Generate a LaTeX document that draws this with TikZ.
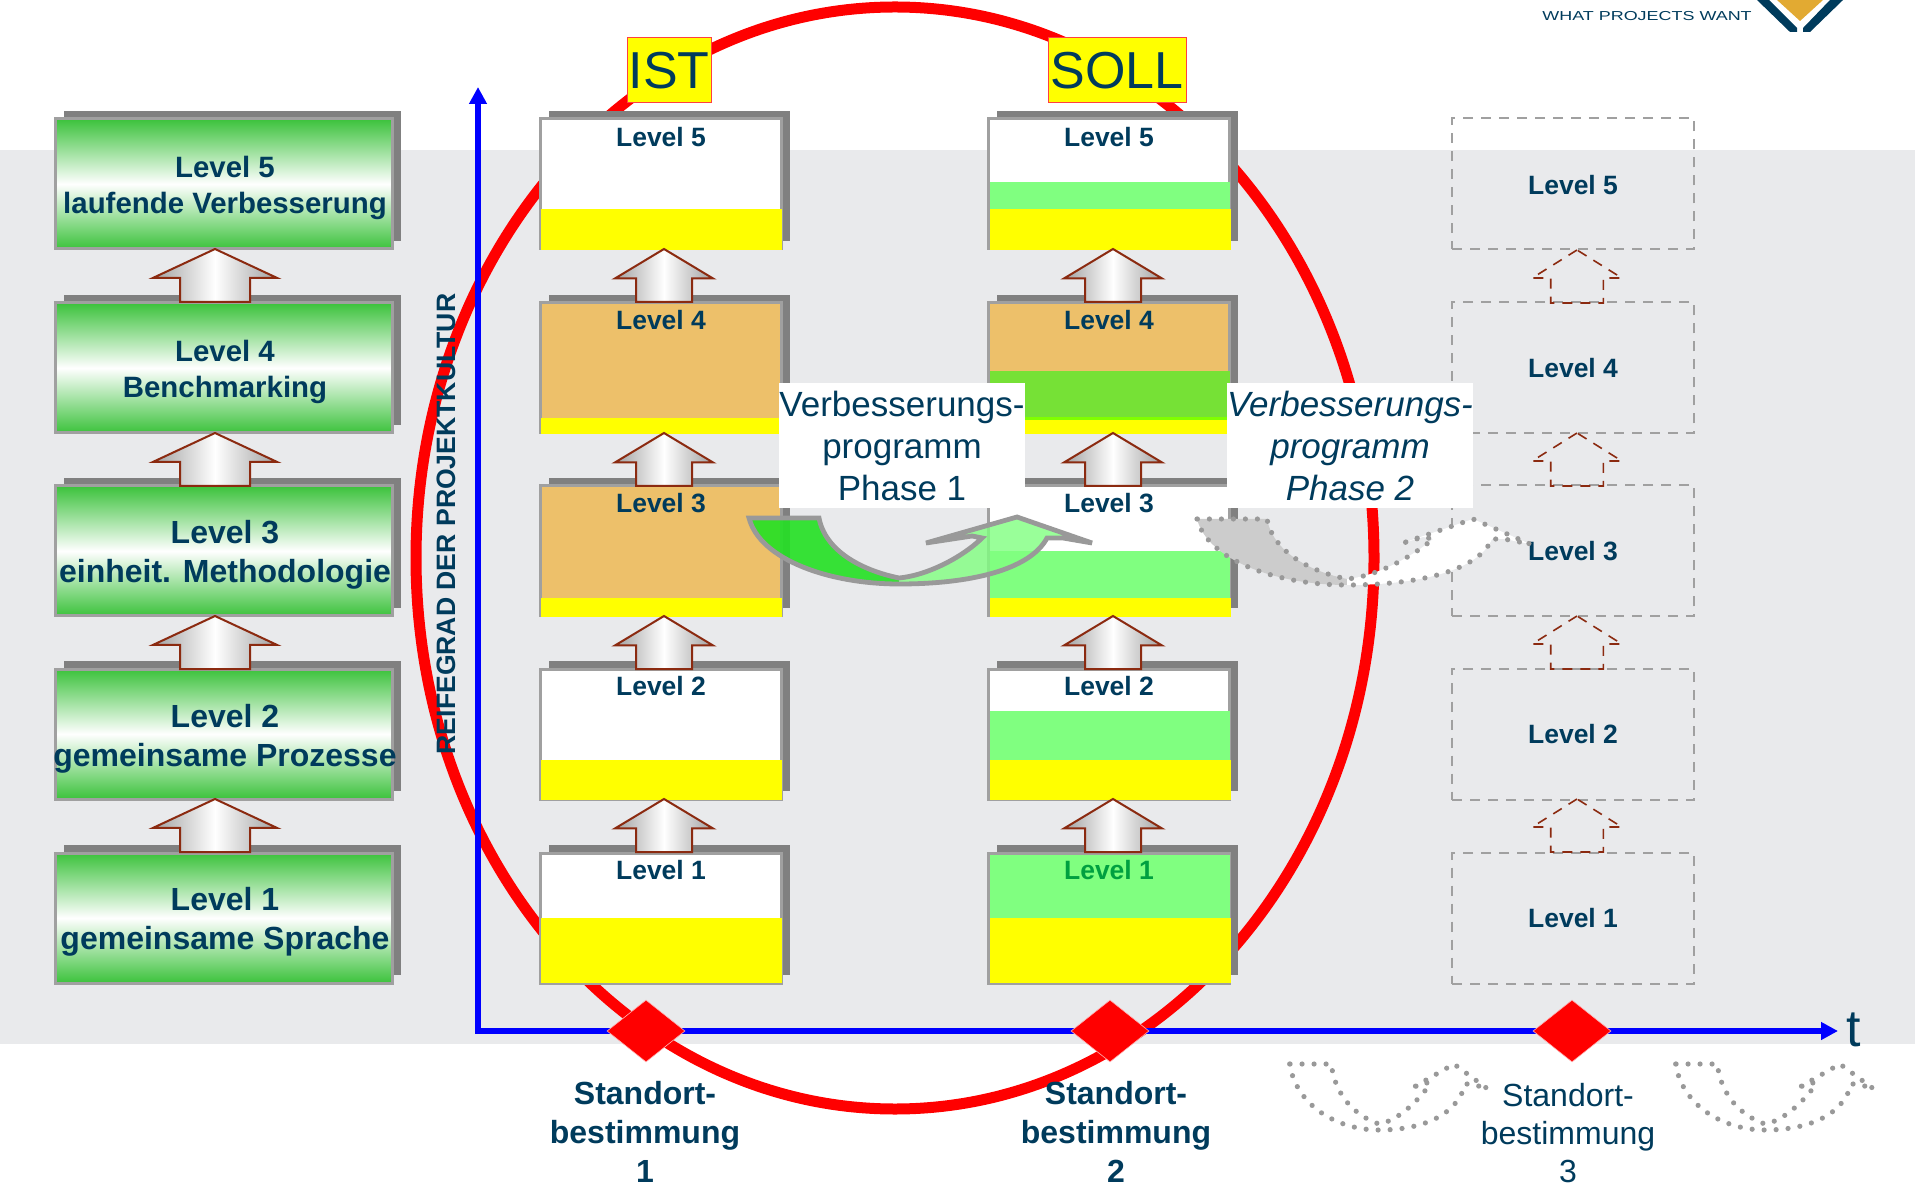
\documentclass[tikz,border=0pt]{standalone}
\usepackage{fontspec}
\setmainfont{Liberation Sans}
\usetikzlibrary{arrows.meta,shapes.arrows,shapes.geometric,shadows}
\definecolor{BandClr}{RGB}{233,234,236}
\definecolor{LabelClr}{RGB}{0,59,92}
\definecolor{BorderClr}{RGB}{160,160,160}
\definecolor{ShadowClr}{RGB}{128,128,128}
\definecolor{LeafClr}{RGB}{60,194,60}
\definecolor{ArrowClr}{RGB}{139,42,16}
\definecolor{OrangeClr}{RGB}{237,192,106}
\definecolor{SoftGreen}{RGB}{128,255,128}
\definecolor{MixGreen}{RGB}{118,225,54}
\definecolor{LimeClr}{RGB}{128,255,0}
\definecolor{TurnGreen}{RGB}{35,225,35}
\definecolor{TurnClr}{RGB}{153,153,153}
\definecolor{GoldClr}{RGB}{226,170,50}
\definecolor{YellowClr}{RGB}{255,255,0}
\newcommand{\TurnLeft}{(749,518) .. controls (760,560) and (830,584) .. (899,584) -- (899,578) .. controls (860,570) and (825,550) .. (819,518) -- cycle}
\newcommand{\TurnRight}{(899,584) .. controls (970,584) and (1030,570) .. (1047,538) -- (1063,538) -- (1092,543) -- (1017,517) -- (926,543) -- (972,536) -- (982,538) .. controls (965,555) and (930,575) .. (899,578) -- cycle}
\newcommand{\TurnWhole}{(749,518) .. controls (760,560) and (830,584) .. (899,584) .. controls (970,584) and (1030,570) .. (1047,538) -- (1063,538) -- (1092,543) -- (1017,517) -- (926,543) -- (972,536) -- (982,538) .. controls (965,555) and (930,575) .. (899,578) .. controls (860,570) and (825,550) .. (819,518) -- cycle}
\newcommand{\TurnDotRight}{(899,584) .. controls (970,584) and (1030,570) .. (1044,538) -- (1056,538) -- (1082,543) -- (1025,518) -- (952,543) -- (975,536) -- (985,538) .. controls (965,555) and (930,575) .. (899,578) -- cycle}
\newcommand{\TurnDotWhole}{(749,518) .. controls (760,560) and (830,584) .. (899,584) .. controls (970,584) and (1030,570) .. (1044,538) -- (1056,538) -- (1082,543) -- (1025,518) -- (952,543) -- (975,536) -- (985,538) .. controls (965,555) and (930,575) .. (899,578) .. controls (860,570) and (825,550) .. (819,518) -- cycle}
\tikzset{
  LevelBox/.style={rectangle,draw=BorderClr,line width=1.5pt,inner sep=0pt,outer sep=0pt,minimum width=120.5pt,minimum height=65pt,general shadow={shadow xshift=4.3pt,shadow yshift=4pt,fill=ShadowClr}},
  GreenBox/.style={LevelBox,minimum width=168.5pt,top color=LeafClr,bottom color=LeafClr,middle color=white},
  WhiteBox/.style={LevelBox,fill=white},
  OrangeBox/.style={LevelBox,fill=OrangeClr},
  GhostBox/.style={rectangle,draw=BorderClr,line width=1pt,dash pattern=on 5pt off 4pt,inner sep=0pt,minimum width=121pt,minimum height=65.5pt},
  BlockArrow/.style={single arrow,rotate=90,anchor=tip,draw=ArrowClr,line width=1pt,inner xsep=0pt,inner ysep=13.5pt,outer sep=0pt,minimum height=26.5pt,single arrow tip angle=118,single arrow head extend=10.5pt,left color=BorderClr,right color=BorderClr,middle color=white},
  WideArrow/.style={BlockArrow,inner ysep=17pt,single arrow tip angle=130,single arrow head extend=13.5pt},
  GhostArrow/.style={single arrow,rotate=90,anchor=tip,draw=ArrowClr,line width=.8pt,dash pattern=on 5pt off 4pt,inner xsep=0pt,inner ysep=12.75pt,outer sep=0pt,minimum height=26.5pt,single arrow tip angle=116,single arrow head extend=9.25pt},
  GreenText/.style={text=LabelClr,align=center,font=\bfseries\fontsize{16}{19.5}\selectfont},
  SmallGreenText/.style={text=LabelClr,align=center,font=\bfseries\fontsize{14.7}{17.7}\selectfont},
  LevelText/.style={text=LabelClr,font=\bfseries\fontsize{13.25}{16}\selectfont},
  TagBox/.style={rectangle,fill=YellowClr,draw=red!75!white,line width=.5pt,inner sep=0pt,minimum height=32.5pt,text=LabelClr,font=\fontsize{26}{30}\selectfont},
  PhaseBox/.style={rectangle,fill=white,inner sep=0pt,minimum width=123pt,minimum height=62.5pt,text=LabelClr,align=center,font=\fontsize{17.5}{21}\selectfont},
  StandText/.style={text=LabelClr,align=center,inner sep=0pt,font=\fontsize{16}{19}\selectfont},
  MilestoneMark/.style={diamond,fill=red,draw=red!30!white,line width=.3pt,aspect=1.26,inner sep=0pt,minimum width=39pt,minimum height=31pt},
  DotLine/.style={draw=TurnClr,line width=2.6pt,line cap=round,dash pattern=on 0pt off 6pt}
}

\begin{document}
\begin{tikzpicture}[x=.5pt,y=-.5pt]
\useasboundingbox (0,0) rectangle (1915,1186);

\fill[BandClr] (0,150) rectangle (1915,1044);

\draw[red,line width=5.5pt] (895,558) ellipse [x radius=479,y radius=551];

\node[TagBox,minimum width=42pt] (IST) at (669,70.5) {IST};
\node[TagBox,minimum width=69pt] (SOLL) at (1117,70.5) {SOLL};

\node[GreenBox] (G5) at (224,184) {};
\node[GreenBox] (G4) at (224,368) {};
\node[GreenBox] (G3) at (224,551) {};
\node[GreenBox] (G2) at (224,734) {};
\node[GreenBox] (G1) at (224,918) {};

\node[SmallGreenText] (T5) at (225,188) {Level 5\\laufende Verbesserung};
\node[SmallGreenText] (T4) at (225,372) {Level 4\\Benchmarking};
\node[GreenText] (T3) at (225,555) {Level 3\\einheit. Methodologie};
\node[GreenText] (T2) at (225,739) {Level 2\\gemeinsame Prozesse};
\node[GreenText] (T1) at (225,922) {Level 1\\gemeinsame Sprache};

\node[WideArrow] (GA4) at (215,249) {};
\node[WideArrow] (GA3) at (215,433) {};
\node[WideArrow] (GA2) at (215,616) {};
\node[WideArrow] (GA1) at (215,799) {};


\node[WhiteBox] (I5) at (660.5,184) {};
\node[OrangeBox] (I4) at (660.5,368) {};
\node[OrangeBox] (I3) at (660.5,551) {};
\node[WhiteBox] (I2) at (660.5,734) {};
\node[WhiteBox] (I1) at (660.5,918) {};

\fill[YellowClr] (541,209) rectangle (782,250);
\fill[YellowClr] (541,418) rectangle (782,434);
\fill[YellowClr] (541,598) rectangle (782,617);
\fill[YellowClr] (541,760) rectangle (782,800);
\fill[YellowClr] (541,918) rectangle (782,983);

\node[LevelText] (IT5) at (661,137) {Level 5};
\node[LevelText] (IT4) at (661,320) {Level 4};
\node[LevelText] (IT3) at (661,503) {Level 3};
\node[LevelText] (IT2) at (661,686) {Level 2};
\node[LevelText] (IT1) at (661,870) {Level 1};

\node[BlockArrow] (IA4) at (664,249) {};
\node[BlockArrow] (IA3) at (664,433) {};
\node[BlockArrow] (IA2) at (664,616) {};
\node[BlockArrow] (IA1) at (664,799) {};


\node[WhiteBox] (S5) at (1108.5,184) {};
\node[OrangeBox] (S4) at (1108.5,368) {};
\node[WhiteBox] (S3) at (1108.5,551) {};
\node[WhiteBox] (S2) at (1108.5,734) {};
\node[WhiteBox] (S1) at (1108.5,918) {};

\fill[SoftGreen] (990,182) rectangle (1230,209);
\fill[MixGreen] (990,371) rectangle (1230,417);
\fill[SoftGreen] (990,551) rectangle (1230,598);
\fill[SoftGreen] (990,711) rectangle (1230,760);
\fill[SoftGreen] (990,855) rectangle (1230,918);

\fill[YellowClr] (990,209) rectangle (1231,250);
\fill[LimeClr] (990,417) rectangle (1231,420);
\fill[YellowClr] (990,420) rectangle (1231,434);
\fill[YellowClr] (990,598) rectangle (1231,617);
\fill[YellowClr] (990,760) rectangle (1231,800);
\fill[YellowClr] (990,918) rectangle (1231,983);

\node[LevelText] (ST5) at (1109,137) {Level 5};
\node[LevelText] (ST4) at (1109,320) {Level 4};
\node[LevelText] (ST3) at (1109,503) {Level 3};
\node[LevelText] (ST2) at (1109,686) {Level 2};
\node[LevelText,text={rgb,255:red,0;green,160;blue,64}] (ST1) at (1109,870) {Level 1};

\node[BlockArrow] (SA4) at (1113,249) {};
\node[BlockArrow] (SA3) at (1113,433) {};
\node[BlockArrow] (SA2) at (1113,616) {};
\node[BlockArrow] (SA1) at (1113,799) {};


\node[GhostBox] (F5) at (1573,184) {};
\node[GhostBox] (F4) at (1573,368) {};
\node[GhostBox] (F3) at (1573,551) {};
\node[GhostBox] (F2) at (1573,734) {};
\node[GhostBox] (F1) at (1573,918) {};

\node[LevelText] (FT5) at (1573,185) {Level 5};
\node[LevelText] (FT4) at (1573,368) {Level 4};
\node[LevelText] (FT3) at (1573,551) {Level 3};
\node[LevelText] (FT2) at (1573,734) {Level 2};
\node[LevelText] (FT1) at (1573,918) {Level 1};

\node[GhostArrow] (FA4) at (1577,250) {};
\node[GhostArrow] (FA3) at (1577,433) {};
\node[GhostArrow] (FA2) at (1577,616) {};
\node[GhostArrow] (FA1) at (1577,799) {};


\node[PhaseBox] (P1) at (902,446) {Verbesserungs-\\programm\\Phase 1};
\node[PhaseBox,font=\itshape\fontsize{17.5}{21}\selectfont] (P2) at (1350,446) {Verbesserungs-\\programm\\Phase 2};

\fill[TurnGreen,fill opacity=.9] \TurnLeft;
\fill[SoftGreen,fill opacity=.8] \TurnRight;
\draw[TurnClr,line width=2.4pt] \TurnWhole;

\begin{scope}[shift={(448,1)}]
\fill[black!20] \TurnLeft;
\fill[white] \TurnDotRight;
\draw[DotLine] \TurnDotWhole;
\end{scope}

\begin{scope}[shift={(844,546)},xscale=.595]
\draw[DotLine] \TurnDotWhole;
\end{scope}

\begin{scope}[shift={(1230,546)},xscale=.595]
\draw[DotLine] \TurnDotWhole;
\end{scope}


\coordinate (O) at (478,1031);
\coordinate (YEnd) at (478,87);
\coordinate (XEnd) at (1838,1031);

\draw[blue,line width=3pt,{Triangle[length=8.5pt,width=8.5pt]}-{Triangle[length=8.5pt,width=8.5pt]}] (YEnd) -- (O) -- (XEnd);

\node[rotate=90,text=LabelClr,font=\bfseries\fontsize{13.3}{16}\selectfont] (YLabel) at (446,524) {REIFEGRAD DER PROJEKTKULTUR};
\node[text=LabelClr,font=\fontsize{26}{30}\selectfont] (XLabel) at (1854,1030) {t};

\node[MilestoneMark] (M1) at (646,1031) {};
\node[MilestoneMark] (M2) at (1110,1031) {};
\node[MilestoneMark] (M3) at (1572,1031) {};

\node[StandText,font=\bfseries\fontsize{16}{19.5}\selectfont] (B1) at (645,1132) {Standort-\\bestimmung\\1};
\node[StandText,font=\bfseries\fontsize{16}{19.5}\selectfont] (B2) at (1116,1132) {Standort-\\bestimmung\\2};
\node[StandText] (B3) at (1568,1133) {Standort-\\bestimmung\\3};


\fill[GoldClr] (1777,0) -- (1823,0) -- (1800,21) -- cycle;
\fill[LabelClr] (1757,0) -- (1769,0) -- (1797,28) -- (1797,32) -- (1790,32) -- cycle;
\fill[LabelClr] (1843,0) -- (1830,0) -- (1803,28) -- (1803,32) -- (1810,32) -- cycle;
\node[text=LabelClr,font=\fontsize{6.5}{8}\selectfont] (Slogan) at (1647,16) {\scalebox{1.38}[1]{WHAT PROJECTS WANT}};

\end{tikzpicture}
\end{document}
